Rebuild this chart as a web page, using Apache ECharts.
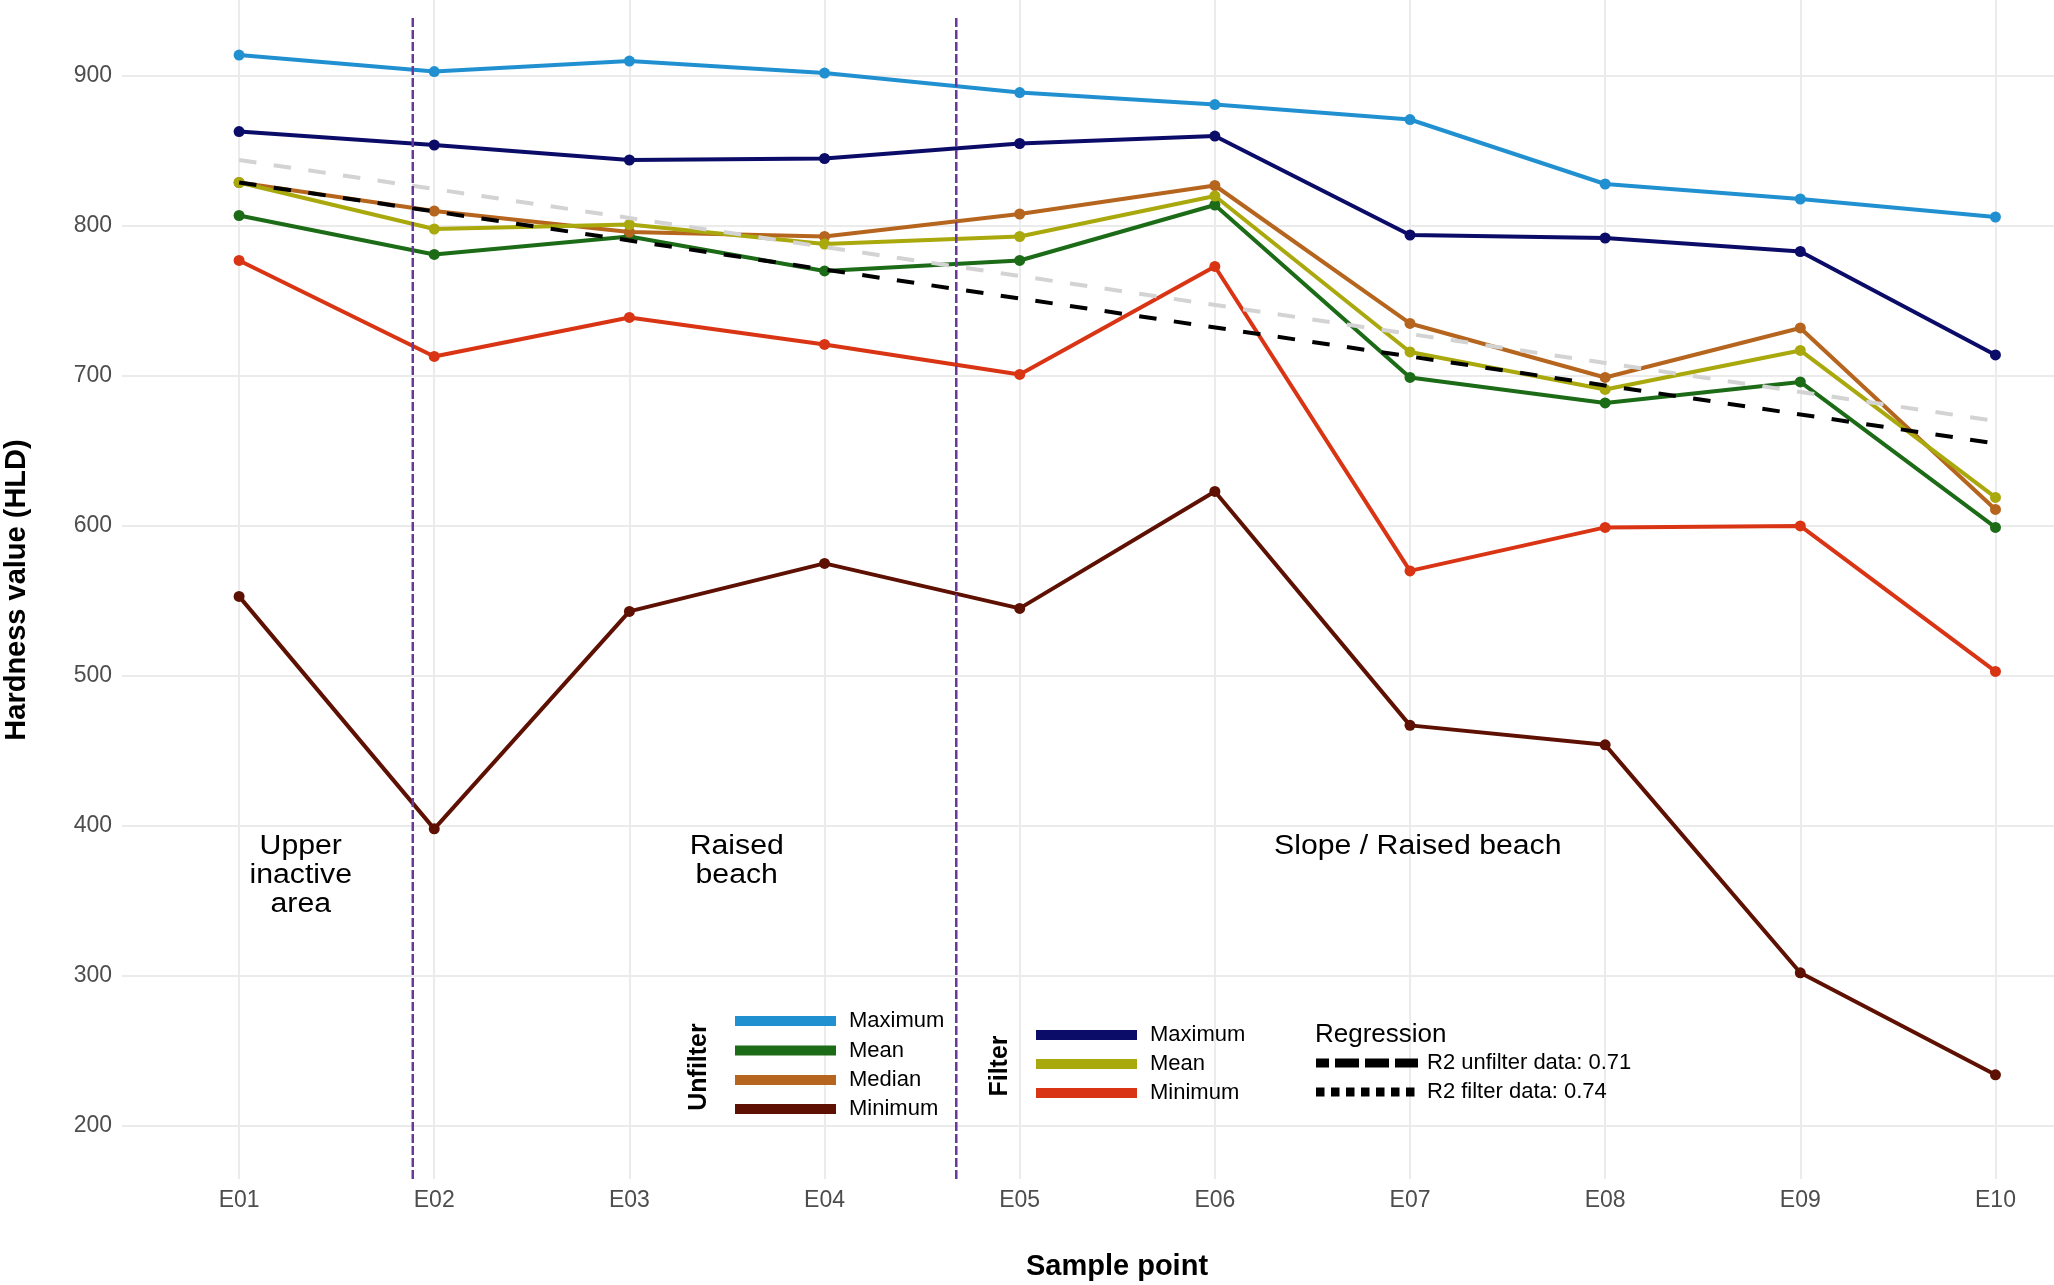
<!DOCTYPE html>
<html><head><meta charset="utf-8">
<script src="https://cdn.jsdelivr.net/npm/echarts@6/dist/echarts.min.js"></script>
<style>html,body{margin:0;padding:0;background:#fff}#c{width:2054px;height:1285px}</style>
</head><body><div id="c"></div>
<script>
// ---- data ----
const categories = ['E01','E02','E03','E04','E05','E06','E07','E08','E09','E10'];
const unfilterMax    = [914, 903, 910, 902, 889, 881, 871, 828, 818, 806];
const unfilterMean   = [807, 781, 793, 770, 777, 814, 699, 682, 696, 599];
const unfilterMedian = [829, 810, 796, 793, 808, 827, 735, 699, 732, 611];
const unfilterMin    = [553, 398, 543, 575, 545, 623, 467, 454, 302, 234];
const filterMax      = [863, 854, 844, 845, 855, 860, 794, 792, 783, 714];
const filterMean     = [829, 798, 801, 788, 793, 820, 716, 691, 717, 619];
const filterMin      = [777, 713, 739, 721, 701, 773, 570, 599, 600, 503];
const regUnfilterEnds = [829, 655];   // regression line value at E01 and E10
const regFilterEnds   = [844, 670];
const zoneBoundaries  = [1.89, 4.675];
const yTickValues = [200, 300, 400, 500, 600, 700, 800, 900];
const xTickValues = [1, 2, 3, 4, 5, 6, 7, 8, 9, 10];
const zoneTexts = ['Upper\ninactive\narea', 'Raised\nbeach', 'Slope / Raised beach'];
const zoneTextX = [1.316, 3.55, 7.04];
const zoneTextTop = 396;
const unfilterNames = ['Maximum', 'Mean', 'Median', 'Minimum'];
const filterNames = ['Maximum', 'Mean', 'Minimum'];
const regressionNames = ['R2 unfilter data: 0.71', 'R2 filter data: 0.74'];

// ---- styles ----
const FONT = '"Liberation Sans", Arial, sans-serif';
const unfilterColors = ['#2190d1', '#1c6b17', '#b5651d', '#5e1102'];
const filterColors = ['#0b0b68', '#a9a80d', '#d93414'];
const Y_MIN = 164.5, Y_MAX = 950.7, X_MIN = 0.4, X_MAX = 10.3;

const toXY = arr => arr.map((v, i) => [xTickValues[i], v]);

function dataLine(name, arr, color) {
  return {
    type: 'line', name: name, data: toXY(arr),
    symbol: 'circle', symbolSize: 11, showSymbol: true,
    lineStyle: { width: 4, color: color },
    itemStyle: { color: color },
    emphasis: { disabled: true }, silent: true, z: 2
  };
}
function regLine(name, ends, color) {
  return {
    type: 'line', name: name,
    data: [[xTickValues[0], ends[0]], [xTickValues[xTickValues.length - 1], ends[1]]],
    symbol: 'none',
    lineStyle: { width: 4, color: color, type: [17.5, 17.5] },
    emphasis: { disabled: true }, silent: true, z: 3
  };
}
function vLine(x) {
  return {
    type: 'line', data: [[x, Y_MIN], [x, 940.5]], symbol: 'none',
    lineStyle: { width: 2.5, color: '#6a379c', type: [9, 3] },
    emphasis: { disabled: true }, silent: true, z: 4
  };
}

const series = [
  dataLine('Unfilter Maximum', unfilterMax, unfilterColors[0]),
  dataLine('Unfilter Mean', unfilterMean, unfilterColors[1]),
  dataLine('Unfilter Median', unfilterMedian, unfilterColors[2]),
  dataLine('Unfilter Minimum', unfilterMin, unfilterColors[3]),
  dataLine('Filter Maximum', filterMax, filterColors[0]),
  dataLine('Filter Mean', filterMean, filterColors[1]),
  dataLine('Filter Minimum', filterMin, filterColors[2]),
  regLine('R2 filter', regFilterEnds, '#d3d3d3'),
  regLine('R2 unfilter', regUnfilterEnds, '#000000'),
  vLine(zoneBoundaries[0]),
  vLine(zoneBoundaries[1])
];

const chart = echarts.init(document.getElementById('c'), null, { renderer: 'canvas' });
chart.setOption({
  animation: false,
  backgroundColor: '#ffffff',
  grid: { left: 122, right: 0, top: 0, bottom: 106, containLabel: false },
  xAxis: {
    type: 'value', min: X_MIN, max: X_MAX,
    axisLine: { show: false },
    axisTick: { show: false, customValues: xTickValues },
    axisLabel: {
      customValues: xTickValues, color: '#4d4d4d', fontSize: 23, fontFamily: FONT, margin: 10,
      formatter: v => categories[Math.round(v) - 1] || ''
    },
    splitLine: { show: true, lineStyle: { color: '#ebebeb', width: 2 } }
  },
  yAxis: {
    type: 'value', min: Y_MIN, max: Y_MAX,
    axisLine: { show: false },
    axisTick: { show: false, customValues: yTickValues },
    axisLabel: { customValues: yTickValues, color: '#4d4d4d', fontSize: 23, fontFamily: FONT, margin: 10 },
    splitLine: { show: true, lineStyle: { color: '#ebebeb', width: 2 } }
  },
  series: series
});

// ---- annotations, axis titles and legends (graphic) ----
const g = [];
zoneTexts.forEach((t, i) => {
  const p = chart.convertToPixel({ gridIndex: 0 }, [zoneTextX[i], zoneTextTop]);
  g.push({ type: 'text', x: p[0], y: p[1], z: 10, scaleX: 1.12,
    style: { text: t, font: '27px ' + FONT, fill: '#000', align: 'center', verticalAlign: 'top', lineHeight: 29 } });
});
g.push({ type: 'text', x: 1117, y: 1267, z: 10,
  style: { text: 'Sample point', font: 'bold 29px ' + FONT, fill: '#000', align: 'center', verticalAlign: 'middle' } });
g.push({ type: 'text', x: 17, y: 590, rotation: Math.PI / 2, z: 10,
  style: { text: 'Hardness value (HLD)', font: 'bold 29px ' + FONT, fill: '#000', align: 'center', verticalAlign: 'middle' } });

// Unfilter legend
g.push({ type: 'text', x: 699, y: 1067, rotation: Math.PI / 2, z: 10,
  style: { text: 'Unfilter', font: 'bold 25px ' + FONT, fill: '#000', align: 'center', verticalAlign: 'middle' } });
const uY = [1021, 1050.5, 1080, 1109];
unfilterNames.forEach((n, i) => {
  g.push({ type: 'line', z: 10, shape: { x1: 735, y1: uY[i], x2: 836, y2: uY[i] },
    style: { stroke: unfilterColors[i], lineWidth: 10 } });
  g.push({ type: 'text', x: 849, y: uY[i], z: 10,
    style: { text: n, font: '22px ' + FONT, fill: '#000', align: 'left', verticalAlign: 'middle' } });
});
// Filter legend
g.push({ type: 'text', x: 1000, y: 1066, rotation: Math.PI / 2, z: 10,
  style: { text: 'Filter', font: 'bold 25px ' + FONT, fill: '#000', align: 'center', verticalAlign: 'middle' } });
const fY = [1035, 1064, 1093];
filterNames.forEach((n, i) => {
  g.push({ type: 'line', z: 10, shape: { x1: 1036, y1: fY[i], x2: 1137, y2: fY[i] },
    style: { stroke: filterColors[i], lineWidth: 10 } });
  g.push({ type: 'text', x: 1150, y: fY[i], z: 10,
    style: { text: n, font: '22px ' + FONT, fill: '#000', align: 'left', verticalAlign: 'middle' } });
});
// Regression legend
g.push({ type: 'text', x: 1315, y: 1035, z: 10,
  style: { text: 'Regression', font: '26px ' + FONT, fill: '#000', align: 'left', verticalAlign: 'middle' } });
const rY = [1063, 1092];
const rDash = [[24, 6], [8.5, 6.5]];
const rOffset = [11, 0];
regressionNames.forEach((n, i) => {
  g.push({ type: 'line', z: 10, shape: { x1: 1316, y1: rY[i], x2: 1418, y2: rY[i] },
    style: { stroke: '#000', lineWidth: 9, lineDash: rDash[i], lineDashOffset: rOffset[i] } });
  g.push({ type: 'text', x: 1427, y: rY[i], z: 10,
    style: { text: n, font: '22px ' + FONT, fill: '#000', align: 'left', verticalAlign: 'middle' } });
});
chart.setOption({ graphic: g });
</script>
</body></html>
